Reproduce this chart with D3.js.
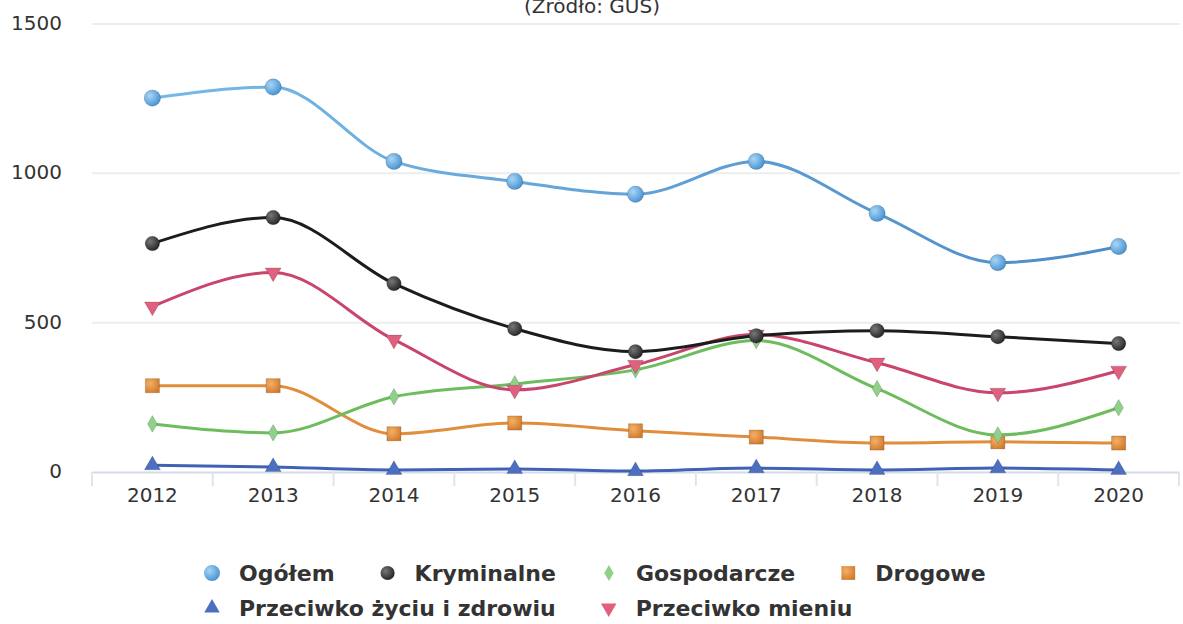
<html>
<head>
<script src="https://cdnjs.cloudflare.com/ajax/libs/d3/7.8.5/d3.min.js"></script>
<style>
  body { margin: 0; background: #fff; }
  svg { display: block; }
</style>
</head>
<body>
<script>
// chart values
var years = ["2012", "2013", "2014", "2015", "2016", "2017", "2018", "2019", "2020"];
var ogolem       = [1252, 1289, 1040, 973, 930, 1040, 866, 701, 755];
var kryminalne   = [765, 852, 631, 480, 403, 456, 473, 453, 430];
var gospodarcze  = [161, 131, 252, 295, 342, 440, 279, 124, 215];
var drogowe      = [289, 289, 128, 164, 138, 117, 97, 101, 97];
var zycie        = [23, 17, 7, 10, 3, 13, 7, 13, 7];
var mienie       = [554, 668, 443, 275, 359, 460, 366, 265, 339];
var yTicks = [0, 500, 1000, 1500];
var title = "(Źródło: GUS)";

var W = 1183, H = 624;

// series table
var series = [
    {name: "Ogółem", values: ogolem, color: "url(#lineBlue)", fill: "url(#gBlue)", symbol: d3.symbolCircle, size: 210, rot: 0},
    {name: "Kryminalne", values: kryminalne, color: "#1c1c1c", fill: "url(#gBlack)", symbol: d3.symbolCircle, size: 165, rot: 0},
    {name: "Gospodarcze", values: gospodarcze, color: "#6dbd5e", fill: "#8fd189", symbol: d3.symbolDiamond, size: 80, rot: 0},
    {name: "Drogowe", values: drogowe, color: "#e08e3c", fill: "url(#gOrange)", symbol: d3.symbolSquare, size: 200, rot: 0},
    {name: "Przeciwko życiu i zdrowiu", values: zycie, color: "#3f62b4", fill: "#4c6fc2", symbol: d3.symbolTriangle, size: 110, rot: 0},
    {name: "Przeciwko mieniu", values: mienie, color: "#c9456b", fill: "#e0607f", symbol: d3.symbolTriangle, size: 110, rot: 180}
];

var svg = d3.select("body").append("svg")
    .attr("width", W)
    .attr("height", H);

var defs = svg.append("defs");
function radial(id, c0, c1) {
    var g = defs.append("radialGradient").attr("id", id)
        .attr("cx", "0.35").attr("cy", "0.35").attr("r", "0.75");
    g.append("stop").attr("offset", "0%").attr("stop-color", c0);
    g.append("stop").attr("offset", "100%").attr("stop-color", c1);
}
radial("gBlue", "#a8d6f5", "#3f8bd0");
radial("gBlack", "#777", "#1e1e1e");
radial("gOrange", "#f4b066", "#d0782a");

var lg = defs.append("linearGradient").attr("id", "lineBlue")
    .attr("gradientUnits", "userSpaceOnUse")
    .attr("x1", 150).attr("x2", 1120).attr("y1", 0).attr("y2", 0);
lg.append("stop").attr("offset", "0%").attr("stop-color", "#76b9e8");
lg.append("stop").attr("offset", "100%").attr("stop-color", "#4d8bc6");

var x = d3.scaleBand().domain(years).range([92, 1179]);
var y = d3.scaleLinear().domain([0, 1500]).range([472, 24]);

// title (sits at the very top edge, as in the source)
svg.append("text")
    .attr("x", 592).attr("y", 13)
    .attr("text-anchor", "middle")
    .style("font-family", "DejaVu Sans")
    .style("font-size", "20px")
    .style("fill", "#333")
    .text(title);

// grid lines
svg.append("g").selectAll("line")
    .data(yTicks.filter(function(d) { return d > 0; }))
    .enter().append("line")
    .attr("x1", 92).attr("x2", 1180)
    .attr("y1", function(d) { return y(d); })
    .attr("y2", function(d) { return y(d); })
    .attr("stroke", "#ededed")
    .attr("stroke-width", 2);

// y labels
svg.append("g").selectAll("text")
    .data(yTicks)
    .enter().append("text")
    .attr("x", 62)
    .attr("y", function(d) { return y(d); })
    .attr("dy", "0.3em")
    .attr("text-anchor", "end")
    .style("font-family", "DejaVu Sans")
    .style("font-size", "20px")
    .style("fill", "#333")
    .text(function(d) { return d; });

// x axis
var xAxis = svg.append("g")
    .attr("transform", "translate(0," + y(0) + ")")
    .call(d3.axisBottom(x).tickSize(0).tickPadding(16));
xAxis.select(".domain").attr("stroke", "#d4dbe8").attr("stroke-width", 2);
xAxis.selectAll("text")
    .style("font-family", "DejaVu Sans")
    .style("font-size", "20px")
    .style("fill", "#333");
xAxis.selectAll(".sep")
    .data(d3.range(years.length + 1))
    .enter().append("line")
    .attr("class", "sep")
    .attr("x1", function(i) { return x.range()[0] + i * x.step(); })
    .attr("x2", function(i) { return x.range()[0] + i * x.step(); })
    .attr("y1", 0).attr("y2", 14)
    .attr("stroke", "#e0e4ec")
    .attr("stroke-width", 2);

// lines
var line = d3.line()
    .x(function(d, i) { return x(years[i]) + x.bandwidth() / 2; })
    .y(function(d) { return y(d); })
    .curve(d3.curveMonotoneX);

var order = [3, 2, 4, 5, 1, 0];
order.forEach(function(k) {
    var s = series[k];
    var g = svg.append("g");
    g.append("path")
        .attr("d", line(s.values))
        .attr("fill", "none")
        .attr("stroke", s.color)
        .attr("stroke-width", 3)
        .attr("stroke-linejoin", "round");
    g.selectAll("path.m")
        .data(s.values)
        .enter().append("path")
        .attr("class", "m")
        .attr("d", d3.symbol().type(s.symbol).size(s.size))
        .attr("transform", function(d, i) {
            return "translate(" + (x(years[i]) + x.bandwidth() / 2) + "," + y(d) + ") rotate(" + s.rot + ")";
        })
        .attr("fill", s.fill)
        .attr("stroke", "rgba(0,0,0,0.15)")
        .attr("stroke-width", 1);
});

// legend
var legend = svg.append("g");
var rows = [[0, 1, 2, 3], [4, 5]];
var rowY = [573, 608];
rows.forEach(function(row, r) {
    var cx = 212;
    row.forEach(function(k) {
        var s = series[k];
        var item = legend.append("g");
        item.append("path")
            .attr("d", d3.symbol().type(s.symbol).size(s.size * 0.95))
            .attr("transform", "translate(" + cx + "," + rowY[r] + ") rotate(" + s.rot + ")")
            .attr("fill", s.fill);
        var t = item.append("text")
            .attr("x", cx + 27)
            .attr("y", rowY[r])
            .attr("dy", "0.36em")
            .style("font-family", "DejaVu Sans")
            .style("font-weight", "bold")
            .style("font-size", "22px")
            .style("fill", "#333")
            .text(s.name);
        cx += 27 + t.node().getComputedTextLength() + 53;
    });
});
</script>
</body>
</html>
